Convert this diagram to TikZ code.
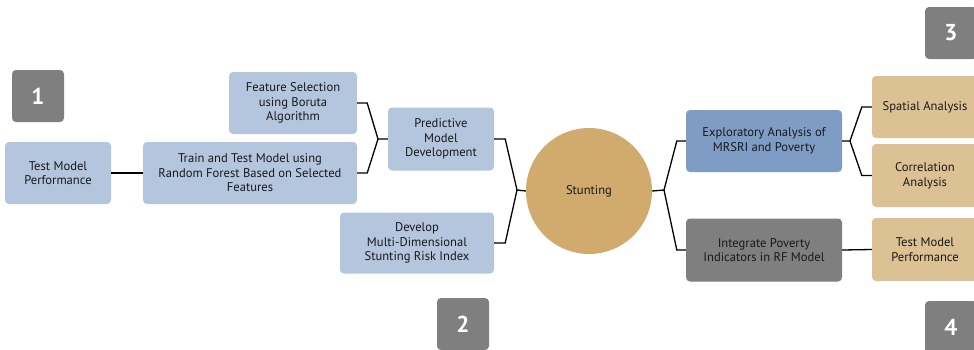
\documentclass[tikz,border=0pt]{standalone}
\usepackage{fontspec}
\setmainfont{PT Sans}
\usepackage{xcolor}
\usepackage{tikz}
\usetikzlibrary{positioning}

\definecolor{boxblue}{HTML}{B4C6DD}
\definecolor{darkblue}{HTML}{7F9DC4}
\definecolor{boxtan}{HTML}{DBC193}
\definecolor{circtan}{HTML}{D1AB6D}
\definecolor{boxgray}{HTML}{7F7F7F}

\begin{document}
\begin{tikzpicture}[x=1pt, y=-1pt,
    box/.style={rounded corners=4pt, inner sep=2pt, align=center,
        text=black!90, font=\fontsize{12.6}{14.6}\selectfont},
    bluebox/.style={box, fill=boxblue},
    tanbox/.style={box, fill=boxtan},
    badge/.style={rounded corners=4pt, fill=boxgray, text=white,
        minimum width=52pt, minimum height=52pt,
        font=\fontsize{23}{23}\selectfont\bfseries},
    link/.style={draw=black, line width=1.3pt}]
    \useasboundingbox (0,0) rectangle (974,349);

    % step badges
    \node[badge] (b1) at (38,96) {1};
    \node[badge] (b2) at (463,324) {2};
    \node[badge] (b3) at (951,33) {3};
    \node[badge] (b4) at (951,327) {4};

    % left branch
    \node[bluebox, minimum width=106pt, minimum height=62pt] (tmp1) at (58,173) {Test Model\\Performance};
    \node[bluebox, minimum width=214pt, minimum height=62pt] (ttm) at (250,173) {Train and Test Model using\\Random Forest Based on Selected\\Features};
    \node[bluebox, minimum width=128pt, minimum height=62pt] (fsb) at (293,103) {Feature Selection\\using Boruta\\Algorithm};
    \node[bluebox, minimum width=106pt, minimum height=63pt] (pmd) at (441,139) {Predictive\\Model\\Development};
    \node[bluebox, minimum width=154pt, minimum height=61pt] (dmd) at (417,243) {Develop\\Multi-Dimensional\\Stunting Risk Index};

    % centre
    \node[circle, fill=circtan, minimum size=126pt, inner sep=0pt, text=black!90,
        font=\fontsize{12.6}{14.6}\selectfont] (stunt) at (589,191) {Stunting};

    % right branch
    \node[box, fill=darkblue, minimum width=156pt, minimum height=62pt] (eda) at (764,141) {Exploratory Analysis of\\MRSRI and Poverty};
    \node[box, fill=boxgray, minimum width=156pt, minimum height=63pt] (ipi) at (764,250) {Integrate Poverty\\Indicators in RF Model};
    \node[tanbox, minimum width=106pt, minimum height=62pt] (spa) at (925,107) {Spatial Analysis};
    \node[tanbox, minimum width=106pt, minimum height=63pt] (cor) at (925,175.5) {Correlation\\Analysis};
    \node[tanbox, minimum width=106pt, minimum height=63pt] (tmp2) at (925,249.5) {Test Model\\Performance};

    % bracket joints
    \coordinate (j1) at (378,139);
    \coordinate (j2) at (517,190);
    \coordinate (j3) at (664,190);
    \coordinate (j4) at (850,141);

    \draw[link] (tmp1.east) -- (ttm.west);
    \draw[link] (fsb.east) -- ++(10,0) -- (j1) -- (pmd.west);
    \draw[link] (ttm.east) -- ++(10,0) -- (j1);
    \draw[link] (pmd.east) -- ++(11,0) -- (j2) -- (stunt.west);
    \draw[link] (dmd.east) -- ++(11,0) -- (j2);
    \draw[link] (stunt.east) -- (j3) -- ([xshift=-9pt]eda.west) -- (eda.west);
    \draw[link] (j3) -- ([xshift=-9pt]ipi.west) -- (ipi.west);
    \draw[link] (eda.east) -- (j4) -- ([xshift=-10pt]spa.west) -- (spa.west);
    \draw[link] (j4) -- ([xshift=-10pt]cor.west) -- (cor.west);
    \draw[link] (ipi.east) -- (tmp2.west);
\end{tikzpicture}
\end{document}
